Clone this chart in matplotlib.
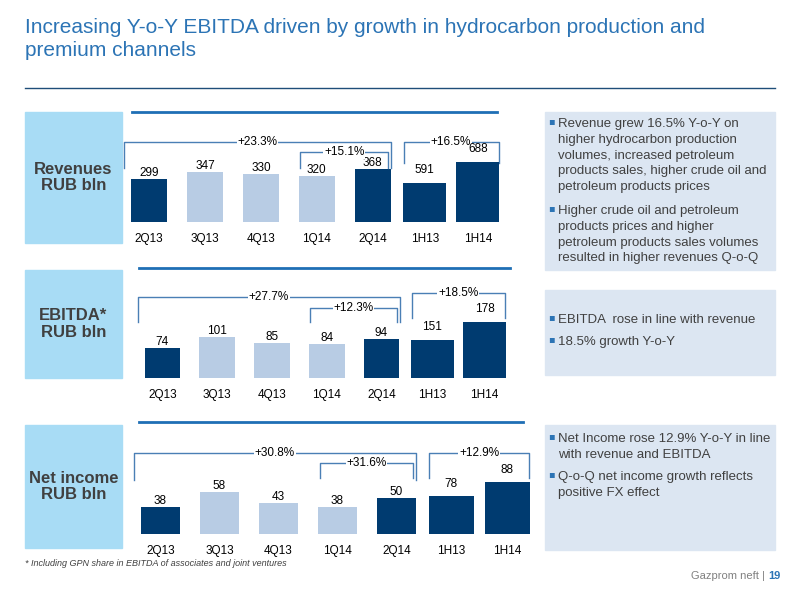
import matplotlib.pyplot as plt
import matplotlib.patches as mpatches
from matplotlib.lines import Line2D

plt.rcParams['font.family'] = ['Liberation Sans', 'DejaVu Sans']

# data
categories = ["2Q13", "3Q13", "4Q13", "1Q14", "2Q14", "1H13", "1H14"]
revenues = [299, 347, 330, 320, 368, 591, 688]
ebitda = [74, 101, 85, 84, 94, 151, 178]
net_income = [38, 58, 43, 38, 50, 78, 88]
row_names = ["Revenues\nRUB bln", "EBITDA*\nRUB bln", "Net income\nRUB bln"]
big_growth = ["+23.3%", "+27.7%", "+30.8%"]
small_growth = ["+15.1%", "+12.3%", "+31.6%"]
half_growth = ["+16.5%", "+18.5%", "+12.9%"]
bullets = [
    ["Revenue grew 16.5% Y-o-Y on\nhigher hydrocarbon production\nvolumes, increased petroleum\nproducts sales, higher crude oil and\npetroleum products prices",
     "Higher crude oil and petroleum\nproducts prices and higher\npetroleum products sales volumes\nresulted in higher revenues Q-o-Q"],
    ["EBITDA  rose in line with revenue", "18.5% growth Y-o-Y"],
    ["Net Income rose 12.9% Y-o-Y in line\nwith revenue and EBITDA",
     "Q-o-Q net income growth reflects\npositive FX effect"],
]

DARK = "#003b70"
LIGHT = "#b8cce4"
BLUE = "#2c74b5"
LBOX = "#a8dcf5"
RBOX = "#dce6f2"

fig = plt.figure(figsize=(8, 6), dpi=100)

def px(x, y, w, h):
    return [x / 800, 1 - (y + h) / 600, w / 800, h / 600]

# title
fig.text(25 / 800, 1 - 18 / 600, "Increasing Y-o-Y EBITDA driven by growth in hydrocarbon production and\npremium channels",
         color=BLUE, fontsize=15, va="top", ha="left", linespacing=1.3)
fig.add_artist(Line2D([25 / 800, 775 / 800], [1 - 88 / 600] * 2, color="#1f4e79", lw=1))

xpos = [0, 1, 2, 3, 4, 4.93, 5.88]
widths = [0.65] * 5 + [0.77, 0.77]
colors = [DARK, LIGHT, LIGHT, LIGHT, DARK, DARK, DARK]

rows = [
    dict(vals=revenues, left=121, width=386, top=110, bot=222, qlim=(0, 778), hlim=(410, 928),
         box=(25, 112, 97, 131), rbox=(545, 112, 230, 158), line=(132, 497, 112),
         big=(142, 168), small=(152, 168), half=(142, 163)),
    dict(vals=ebitda, left=135, width=378, top=268, bot=378, qlim=(0, 268), hlim=(94, 258),
         box=(25, 270, 97, 108), rbox=(545, 290, 230, 85), line=(139, 510, 268),
         big=(297, 322), small=(308, 322), half=(293, 318)),
    dict(vals=net_income, left=131, width=407, top=424, bot=534, qlim=(0, 152), hlim=(51, 130),
         box=(25, 425, 97, 123), rbox=(545, 425, 230, 125), line=(139, 523, 422),
         big=(453, 480), small=(463, 478), half=(453, 478)),
]
bullet_top = [118, 314, 433]

for i, r in enumerate(rows):
    # left label box
    bx, by, bw, bh = r["box"]
    fig.add_artist(mpatches.Rectangle((bx / 800, 1 - (by + bh) / 600), bw / 800, bh / 600,
                                      color=LBOX, transform=fig.transFigure, zorder=0))
    fig.text((bx + bw / 2) / 800, 1 - (by + bh / 2) / 600, row_names[i], ha="center", va="center",
             fontsize=12, fontweight="bold", color="#404040", linespacing=1.1)
    # right text box
    rx, ry, rw, rh = r["rbox"]
    fig.add_artist(mpatches.Rectangle((rx / 800, 1 - (ry + rh) / 600), rw / 800, rh / 600,
                                      color=RBOX, transform=fig.transFigure, zorder=0))
    ty = bullet_top[i]
    for b in bullets[i]:
        fig.text((rx + 3) / 800, 1 - (ty - 2) / 600, "▪", color=BLUE, fontsize=7, va="top",
                 family=["DejaVu Sans"])
        fig.text((rx + 13) / 800, 1 - ty / 600, b, color="#404040", fontsize=9.5, va="top",
                 linespacing=1.42)
        ty += 16.2 * (b.count("\n") + 1) + 6
    # top separator line
    lx0, lx1, ly = r["line"]
    fig.add_artist(Line2D([lx0 / 800, lx1 / 800], [1 - ly / 600] * 2, color="#1f6fb5", lw=2))

    ax = fig.add_axes(px(r["left"], r["top"], r["width"], r["bot"] - r["top"]))
    ax2 = ax.twinx()
    for a in (ax, ax2):
        a.set_xlim(-0.5, 6.4)
        a.axis("off")
    ax.set_ylim(*r["qlim"])
    ax2.set_ylim(*r["hlim"])
    v = r["vals"]
    ax.bar(xpos[:5], v[:5], width=widths[:5], color=colors[:5])
    ax2.bar(xpos[5:], v[5:], width=widths[5:], color=colors[5:])
    for j in range(5):
        ax.text(xpos[j], v[j], str(v[j]), ha="center", va="bottom", fontsize=8.5)
        ax.text(xpos[j], -0.1, categories[j], ha="center", va="top", fontsize=8.5,
                transform=ax.get_xaxis_transform())
    for j in range(5, 7):
        ax2.text(xpos[j], v[j] + (r["hlim"][1] - r["hlim"][0]) * 0.06, str(v[j]), ha="center",
                 va="bottom", fontsize=8.5)
        ax2.text(xpos[j], -0.1, categories[j], ha="center", va="top", fontsize=8.5,
                 transform=ax2.get_xaxis_transform())

    def bracket(x0, x1, ytop, ybot, label):
        tr = ax.get_xaxis_transform()
        h = r["bot"] - r["top"]
        yt = (r["bot"] - ytop) / h
        yb = (r["bot"] - ybot) / h
        ax.plot([x0, x0, x1, x1], [yb, yt, yt, yb], transform=tr, color="#4a7fb5", lw=1,
                clip_on=False)
        ax.text((x0 + x1) / 2, yt, label, transform=tr, ha="center", va="center", fontsize=8.5,
                bbox=dict(facecolor="white", edgecolor="none", pad=0.5), clip_on=False)

    bracket(-0.45, 4.33, r["big"][0], r["big"][1], big_growth[i])
    bracket(2.7, 4.28, r["small"][0], r["small"][1], small_growth[i])
    bracket(4.55, 6.25, r["half"][0], r["half"][1], half_growth[i])

fig.text(25 / 800, 1 - 563 / 600, "* Including GPN share in EBITDA of associates and joint ventures",
         fontsize=6.5, style="italic", color="#404040", va="center")
fig.text(765 / 800, 1 - 576 / 600, "Gazprom neft |", fontsize=8, color="#808080", ha="right", va="center")
fig.text(768 / 800, 1 - 576 / 600, "19", fontsize=8, color=BLUE, fontweight="bold", ha="left", va="center")

fig.savefig("out.png", dpi=100)
